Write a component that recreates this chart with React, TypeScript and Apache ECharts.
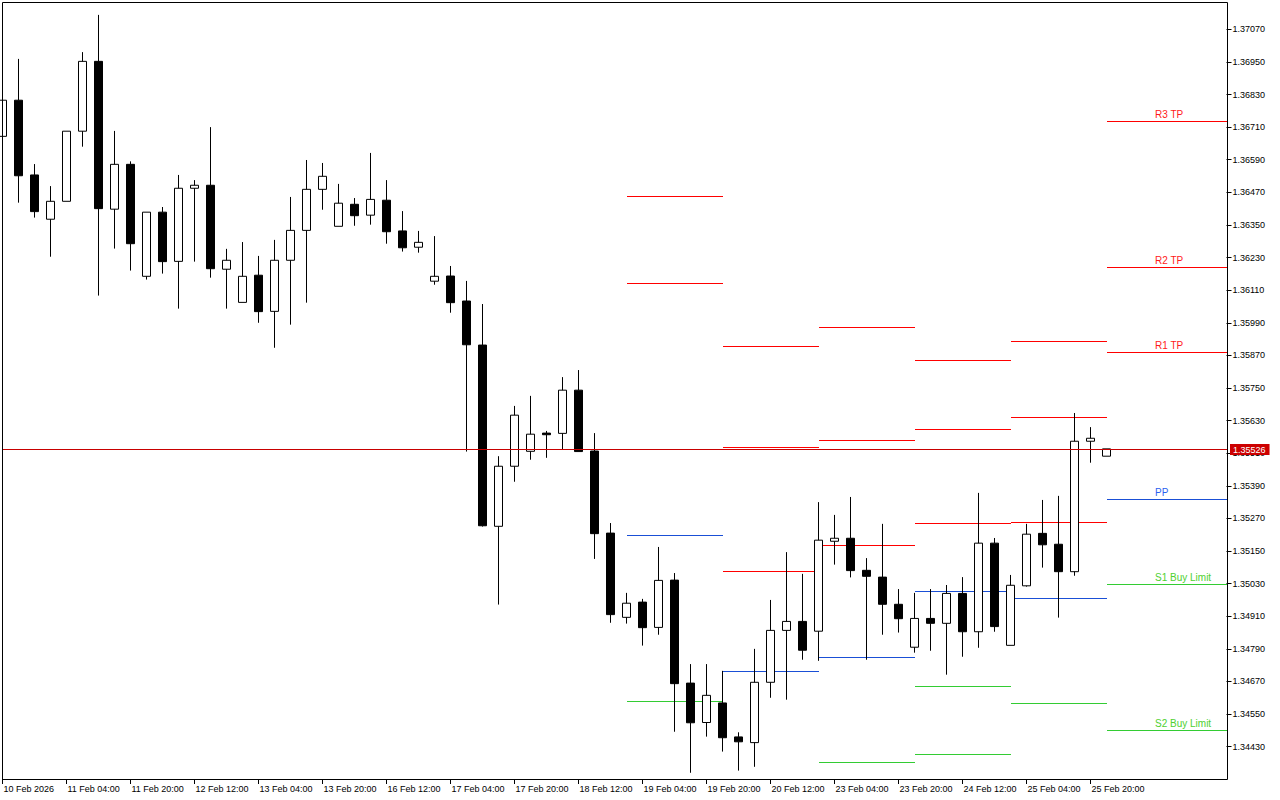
import React, { useEffect, useRef } from 'react';
import * as echarts from 'echarts';

// 4-hour bars, 10 Feb 2026 12:00 .. 26 Feb 2026 00:00
const barTimes = [
  '10 Feb 12:00', '10 Feb 16:00', '10 Feb 20:00',
  '11 Feb 00:00', '11 Feb 04:00', '11 Feb 08:00', '11 Feb 12:00', '11 Feb 16:00', '11 Feb 20:00',
  '12 Feb 00:00', '12 Feb 04:00', '12 Feb 08:00', '12 Feb 12:00', '12 Feb 16:00', '12 Feb 20:00',
  '13 Feb 00:00', '13 Feb 04:00', '13 Feb 08:00', '13 Feb 12:00', '13 Feb 16:00', '13 Feb 20:00',
  '16 Feb 00:00', '16 Feb 04:00', '16 Feb 08:00', '16 Feb 12:00', '16 Feb 16:00', '16 Feb 20:00',
  '17 Feb 00:00', '17 Feb 04:00', '17 Feb 08:00', '17 Feb 12:00', '17 Feb 16:00', '17 Feb 20:00',
  '18 Feb 00:00', '18 Feb 04:00', '18 Feb 08:00', '18 Feb 12:00', '18 Feb 16:00', '18 Feb 20:00',
  '19 Feb 00:00', '19 Feb 04:00', '19 Feb 08:00', '19 Feb 12:00', '19 Feb 16:00', '19 Feb 20:00',
  '20 Feb 00:00', '20 Feb 04:00', '20 Feb 08:00', '20 Feb 12:00', '20 Feb 16:00', '20 Feb 20:00',
  '23 Feb 00:00', '23 Feb 04:00', '23 Feb 08:00', '23 Feb 12:00', '23 Feb 16:00', '23 Feb 20:00',
  '24 Feb 00:00', '24 Feb 04:00', '24 Feb 08:00', '24 Feb 12:00', '24 Feb 16:00', '24 Feb 20:00',
  '25 Feb 00:00', '25 Feb 04:00', '25 Feb 08:00', '25 Feb 12:00', '25 Feb 16:00', '25 Feb 20:00',
  '26 Feb 00:00',
];

const opens = [
  1.36676, 1.36809, 1.36534, 1.36371, 1.36437, 1.36695, 1.36952, 1.36408, 1.36573, 1.36161,
  1.36397, 1.36216, 1.36485, 1.36496, 1.36187, 1.36065, 1.36165, 1.36032, 1.36220, 1.36330,
  1.36481, 1.36345, 1.36426, 1.36386, 1.36441, 1.36328, 1.36268, 1.36143, 1.36162, 1.36070,
  1.35908, 1.35241, 1.35462, 1.35517, 1.35584, 1.35583, 1.35742, 1.35518, 1.35216, 1.34906,
  1.34962, 1.34869, 1.35043, 1.34664, 1.34519, 1.34591, 1.34466, 1.34445, 1.34667, 1.34858,
  1.34891, 1.34855, 1.35186, 1.35197, 1.35079, 1.35054, 1.34954, 1.34796, 1.34902, 1.34884,
  1.34994, 1.34853, 1.35179, 1.34803, 1.35022, 1.35215, 1.35175, 1.35074, 1.35554, 1.35499,
];
const closes = [
  1.36809, 1.36531, 1.36399, 1.36437, 1.36695, 1.36952, 1.36410, 1.36573, 1.36281, 1.36397,
  1.36215, 1.36485, 1.36496, 1.36189, 1.36220, 1.36161, 1.36031, 1.36220, 1.36330, 1.36481,
  1.36529, 1.36430, 1.36384, 1.36444, 1.36325, 1.36266, 1.36286, 1.36161, 1.36064, 1.35909,
  1.35243, 1.35462, 1.35650, 1.35580, 1.35578, 1.35742, 1.35516, 1.35214, 1.34916, 1.34958,
  1.34868, 1.35042, 1.34662, 1.34518, 1.34619, 1.34463, 1.34448, 1.34667, 1.34858, 1.34891,
  1.34785, 1.35190, 1.35197, 1.35078, 1.35057, 1.34954, 1.34901, 1.34902, 1.34884, 1.34994,
  1.34853, 1.35179, 1.34872, 1.35024, 1.35212, 1.35173, 1.35074, 1.35554, 1.35565, 1.35526,
];
const lows = [
  1.36674, 1.36432, 1.36377, 1.36233, 1.36437, 1.36638, 1.36090, 1.36263, 1.36182, 1.36149,
  1.36171, 1.36042, 1.36215, 1.36156, 1.36042, 1.36065, 1.35990, 1.35898, 1.35983, 1.36064,
  1.36406, 1.36345, 1.36347, 1.36351, 1.36281, 1.36252, 1.36248, 1.36130, 1.36027, 1.35516,
  1.35240, 1.34953, 1.35405, 1.35486, 1.35493, 1.35524, 1.35516, 1.35121, 1.34886, 1.34883,
  1.34802, 1.34842, 1.34485, 1.34334, 1.34467, 1.34412, 1.34342, 1.34356, 1.34610, 1.34603,
  1.34750, 1.34746, 1.35100, 1.35053, 1.34750, 1.34842, 1.34850, 1.34776, 1.34783, 1.34695,
  1.34761, 1.34794, 1.34853, 1.34803, 1.35019, 1.35089, 1.34905, 1.35059, 1.35475, 1.35499,
];
const highs = [
  1.36813, 1.36961, 1.36574, 1.36493, 1.36695, 1.36986, 1.37123, 1.36696, 1.36584, 1.36397,
  1.36416, 1.36534, 1.36515, 1.36710, 1.36262, 1.36287, 1.36236, 1.36295, 1.36453, 1.36589,
  1.36578, 1.36501, 1.36449, 1.36615, 1.36515, 1.36401, 1.36328, 1.36309, 1.36199, 1.36144,
  1.36059, 1.35499, 1.35684, 1.35721, 1.35592, 1.35790, 1.35816, 1.35584, 1.35253, 1.34996,
  1.34974, 1.35165, 1.35069, 1.34734, 1.34734, 1.34709, 1.34483, 1.34790, 1.34970, 1.35146,
  1.35066, 1.35330, 1.35283, 1.35349, 1.35124, 1.35250, 1.35010, 1.34996, 1.35010, 1.35025,
  1.35054, 1.35364, 1.35198, 1.35062, 1.35250, 1.35338, 1.35353, 1.35658, 1.35606, 1.35526,
];

const currentPrice = 1.35526;

// daily pivot segments (start / end bar index) and levels
const pivotStart = [39, 45, 51, 57, 63, 69];
const pivotEnd = [45, 51, 57, 63, 69, 76.5];
const r3 = [1.36456, 1.35903, 1.35973, 1.35852, 1.35922, 1.36731];
const r2 = [1.36136, 1.35533, 1.35558, 1.35598, 1.35642, 1.36194];
const r1 = [1.35526, 1.35075, 1.35171, 1.35252, 1.35257, 1.35882];
const pp = [1.35208, 1.34707, 1.34759, 1.35002, 1.34976, 1.35341];
const s1 = [1.34597, null, 1.34373, 1.34652, 1.34590, 1.35029];
const s2 = [null, null, null, 1.34402, null, 1.34491];

const levelNames = ['R3 TP', 'R2 TP', 'R1 TP', 'PP', 'S1 Buy Limit', 'S2 Buy Limit'];

const xTickLabels = [
  '10 Feb 2026', '11 Feb 04:00', '11 Feb 20:00', '12 Feb 12:00', '13 Feb 04:00', '13 Feb 20:00',
  '16 Feb 12:00', '17 Feb 04:00', '17 Feb 20:00', '18 Feb 12:00', '19 Feb 04:00', '19 Feb 20:00',
  '20 Feb 12:00', '23 Feb 04:00', '23 Feb 20:00', '24 Feb 12:00', '25 Feb 04:00', '25 Feb 20:00',
];

const yTickValues = [
  1.37070, 1.36950, 1.36830, 1.36710, 1.36590, 1.36470, 1.36350, 1.36230, 1.36110, 1.35990,
  1.35870, 1.35750, 1.35630, 1.35510, 1.35390, 1.35270, 1.35150, 1.35030, 1.34910, 1.34790,
  1.34670, 1.34550, 1.34430,
];

const Y_MIN = 1.343111;
const Y_MAX = 1.371704;
const PAD_BARS = 7;
const TICK_EVERY = 4;

const FONT = '"Liberation Sans", Arial, sans-serif';
const KIND_LINE = ['#ff0000', '#1a4fd6', '#33cc33'];
const KIND_TEXT = ['#ff1a1a', '#2a5ff0', '#4fd030'];

export default function App() {
  const ref = useRef<HTMLDivElement>(null);

  useEffect(() => {
    document.body.style.margin = '0';
    const chart = echarts.init(ref.current!, null, { renderer: 'svg' });

    const categories = barTimes.concat(new Array(PAD_BARS).fill(''));
    const candles = opens.map((o, i) => [o, closes[i], lows[i], highs[i]]);
    const xEnd = categories.length - 0.5;
    const showTick = (idx: number) =>
      idx % TICK_EVERY === 0 && idx / TICK_EVERY < xTickLabels.length;

    const levelSets = [r3, r2, r1, pp, s1, s2];
    const kinds = [0, 0, 0, 1, 2, 2];
    const pivotData: number[][] = [];
    levelSets.forEach((arr, li) => {
      arr.forEach((v, d) => {
        if (v != null) pivotData.push([pivotStart[d], pivotEnd[d], v as number, kinds[li]]);
      });
    });
    const last = pivotStart.length - 1;
    const labelData = levelSets.map((arr, li) => [72, arr[last] as number, kinds[li]]);

    const option: any = {
      animation: false,
      backgroundColor: '#ffffff',
      grid: {
        left: -5.5,
        top: 2,
        width: 1232,
        height: 777,
        containLabel: false,
        outerBoundsMode: 'none',
      },
      xAxis: [
        {
          type: 'category',
          data: categories,
          boundaryGap: true,
          axisLine: { show: false, onZero: false },
          axisTick: {
            show: true,
            alignWithLabel: true,
            interval: (idx: number) => showTick(idx),
            length: 5,
            lineStyle: { color: '#000' },
          },
          axisLabel: {
            interval: (idx: number) => showTick(idx),
            align: 'left',
            margin: 5,
            color: '#000',
            fontSize: 9,
            fontFamily: FONT,
            padding: [0, 0, 0, 1],
            formatter: (_v: string, idx: number) => xTickLabels[idx / TICK_EVERY] ?? '',
          },
          splitLine: { show: false },
        },
        {
          type: 'value',
          min: -0.5,
          max: xEnd,
          show: false,
          axisLine: { show: false, onZero: false },
          axisTick: { show: false },
          axisLabel: { show: false },
          splitLine: { show: false },
        },
      ],
      yAxis: {
        type: 'value',
        position: 'right',
        min: Y_MIN,
        max: Y_MAX,
        splitLine: { show: false },
        axisLine: { show: false, onZero: false },
        axisTick: {
          show: true,
          customValues: yTickValues,
          length: 5,
          lineStyle: { color: '#000' },
        },
        axisLabel: {
          customValues: yTickValues,
          formatter: (v: number) => v.toFixed(5),
          color: '#000',
          fontSize: 9,
          fontFamily: FONT,
          margin: 6,
        },
      },
      graphic: [
        {
          type: 'rect',
          shape: { x: 2.5, y: 2.5, width: 1225, height: 777 },
          style: { fill: 'none', stroke: '#000', lineWidth: 1 },
          silent: true,
          z: 100,
        },
      ],
      series: [
        {
          type: 'custom',
          name: 'pivots',
          xAxisIndex: 1,
          yAxisIndex: 0,
          silent: true,
          z: 1,
          data: pivotData,
          renderItem: (params: any, api: any) => {
            const p0 = api.coord([api.value(0), api.value(2)]);
            const p1 = api.coord([api.value(1), api.value(2)]);
            const y = Math.round(p0[1]) + 0.5;
            return {
              type: 'line',
              shape: { x1: Math.round(p0[0]), y1: y, x2: Math.round(p1[0]), y2: y },
              style: { stroke: KIND_LINE[api.value(3)], lineWidth: 1 },
            };
          },
        },
        {
          type: 'custom',
          name: 'pivotLabels',
          xAxisIndex: 1,
          yAxisIndex: 0,
          silent: true,
          z: 3,
          data: labelData,
          renderItem: (params: any, api: any) => {
            const p = api.coord([api.value(0), api.value(1)]);
            const k = api.value(2);
            return {
              type: 'text',
              x: Math.round(p[0]),
              y: Math.round(p[1]) - 2,
              style: {
                text: levelNames[params.dataIndex],
                fill: KIND_TEXT[k],
                font: `10px ${FONT}`,
                textAlign: 'left',
                textVerticalAlign: 'bottom',
                align: 'left',
                verticalAlign: 'bottom',
              },
            };
          },
        },
        {
          type: 'custom',
          name: 'bid',
          xAxisIndex: 1,
          yAxisIndex: 0,
          silent: true,
          clip: false,
          z: 4,
          data: [[-0.5, xEnd, currentPrice]],
          renderItem: (params: any, api: any) => {
            const p0 = api.coord([api.value(0), api.value(2)]);
            const p1 = api.coord([api.value(1), api.value(2)]);
            const y = Math.round(p0[1]) + 0.5;
            return {
              type: 'group',
              children: [
                {
                  type: 'line',
                  shape: { x1: Math.max(2, Math.round(p0[0])), y1: y, x2: Math.round(p1[0]) + 1, y2: y },
                  style: { stroke: '#c80000', lineWidth: 1 },
                },
                {
                  type: 'text',
                  x: Math.round(p1[0]) + 3,
                  y: y,
                  z2: 10,
                  style: {
                    text: (api.value(2) as number).toFixed(5),
                    fill: '#ffffff',
                    font: `9px ${FONT}`,
                    backgroundColor: '#cc0000',
                    padding: [1, 4, 1, 3],
                    textAlign: 'left',
                    textVerticalAlign: 'middle',
                    align: 'left',
                    verticalAlign: 'middle',
                  },
                },
              ],
            };
          },
        },
        {
          type: 'candlestick',
          name: 'price',
          xAxisIndex: 0,
          yAxisIndex: 0,
          z: 2,
          barWidth: 9,
          data: candles,
          itemStyle: {
            color: '#ffffff',
            color0: '#000000',
            borderColor: '#000000',
            borderColor0: '#000000',
            borderColorDoji: '#000000',
            borderWidth: 1,
          },
        },
      ],
    };

    chart.setOption(option);
    return () => chart.dispose();
  }, []);

  return (
    <div
      ref={ref}
      style={{ position: 'absolute', left: 0, top: 0, width: 1280, height: 800, background: '#fff' }}
    />
  );
}
